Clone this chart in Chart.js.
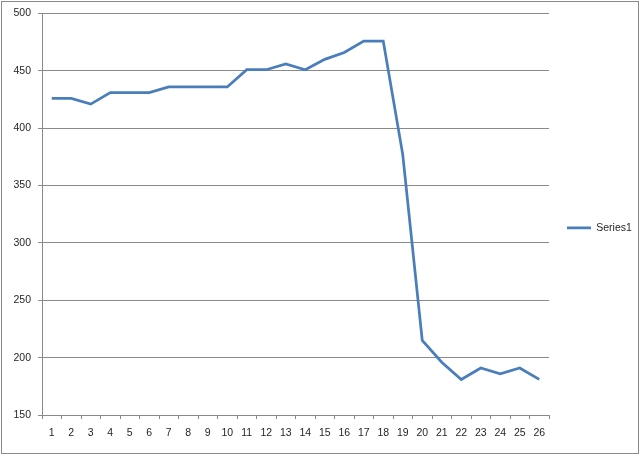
<!DOCTYPE html>
<html>
<head>
<meta charset="utf-8">
<script src="https://cdn.jsdelivr.net/npm/chart.js@4"></script>
<style>
  body { margin: 0; background: #fff; }
  #box { position: absolute; left: 1px; top: 1px; width: 636px; height: 451px; border: 1px solid #8a8a8a; }
</style>
</head>
<body>
<div id="box"><canvas id="myChart" width="636" height="451"></canvas></div>
<script>
var labels = ["1","2","3","4","5","6","7","8","9","10","11","12","13","14","15","16","17","18","19","20","21","22","23","24","25","26"];
var series1 = [426, 426, 421, 431, 431, 431, 436, 436, 436, 436, 451, 451, 456, 451, 460, 466, 476, 476, 377, 215, 196, 181, 191, 186, 191, 181];
var yTicks = { min: 150, max: 500, step: 50 };

var gridColor = "#8a8a8a";
var textColor = "#262626";
var font = { family: "Liberation Sans", size: 10.5 };

var ctx = document.getElementById("myChart").getContext("2d");
var myLineChart = new Chart(ctx, {
  type: "line",
  data: {
    labels: labels,
    datasets: [
      {
        label: "Series1",
        data: series1,
        borderColor: "#4a7ebb",
        backgroundColor: "#4a7ebb",
        borderWidth: 2.75,
        pointRadius: 0,
        pointStyle: "line",
        tension: 0,
        fill: false,
      },
    ],
  },
  options: {
    responsive: false,
    animation: false,
    layout: { padding: { top: 11.5, left: 0, right: 0, bottom: 11 } },
    plugins: {
      tooltip: { enabled: false },
      legend: {
        position: "right",
        maxWidth: 89,
        labels: {
          usePointStyle: true,
          pointStyleWidth: 24,
          padding: 18,
          color: textColor,
          font: font,
        },
      },
    },
    scales: {
      x: {
        offset: true,
        grid: {
          offset: true,
          drawOnChartArea: false,
          drawTicks: true,
          tickLength: 4,
          color: gridColor,
        },
        border: { color: gridColor },
        ticks: { color: textColor, font: font, padding: 8, maxRotation: 0, autoSkip: false },
        afterFit: function (scale) {
          scale.height = 27;
        },
      },
      y: {
        min: yTicks.min,
        max: yTicks.max,
        grid: { color: gridColor, tickLength: 4 },
        border: { color: gridColor },
        ticks: { stepSize: yTicks.step, color: textColor, font: font, padding: 7 },
        afterFit: function (scale) {
          scale.width = 40;
          scale.paddingTop = 0;
          scale.paddingBottom = 0;
        },
      },
    },
  },
});
</script>
</body>
</html>
